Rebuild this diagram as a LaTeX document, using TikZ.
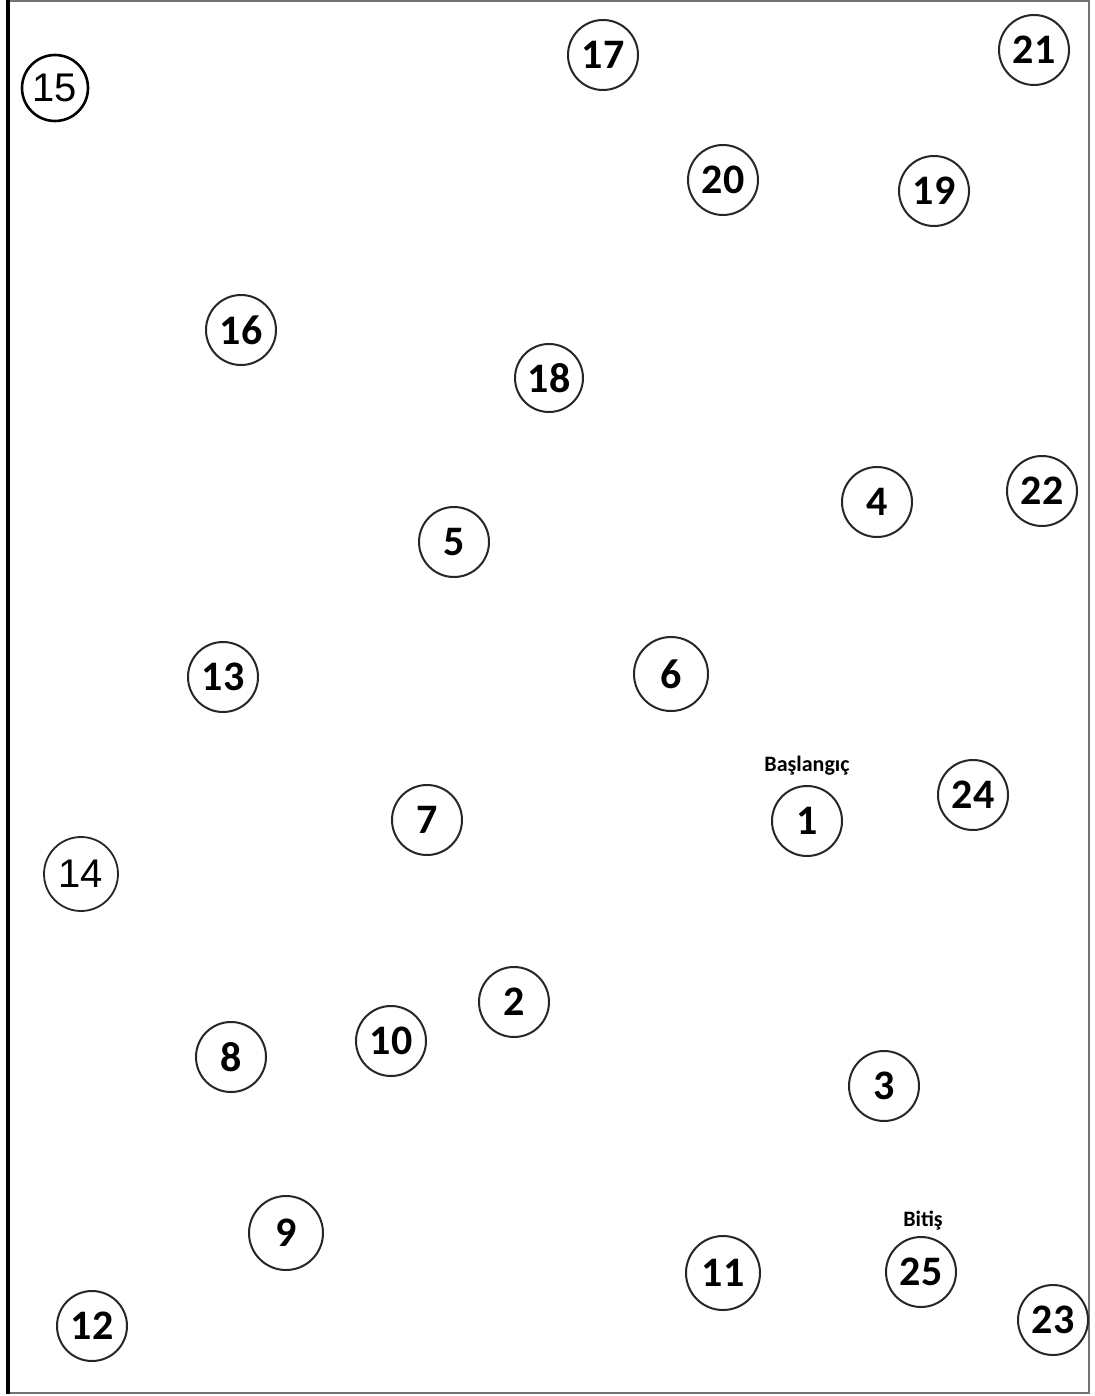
\documentclass[tikz,border=0pt]{standalone}
\usepackage{fontspec}
\setmainfont{Carlito}
\newfontfamily\handfont{Liberation Sans}
\begin{document}
\begin{tikzpicture}[x=1pt,y=-1pt,
  dot/.style={circle,draw=black!85,line width=2pt,minimum size=70pt,inner sep=0pt,font=\bfseries\fontsize{42}{42}\selectfont},
  hand/.style={circle,draw=black,line width=2.6pt,minimum size=66pt,inner sep=0pt,font=\handfont\fontsize{40}{40}\selectfont},
  tag/.style={font=\bfseries\fontsize{22}{22}\selectfont,inner sep=0pt}]
\useasboundingbox (0,0) rectangle (1094,1396);
\fill[white] (0,0) rectangle (1094,1396);
\draw[black!55,line width=2pt] (8,1) -- (1089,1) -- (1089,1393) -- (8,1393);
\draw[black,line width=3.5pt] (8,0) -- (8,1394);
\node[hand] (n15) at (55,88) {15};
\node[dot] (n17) at (603,55) {17};
\node[dot] (n21) at (1034,50) {21};
\node[dot] (n20) at (723,180) {20};
\node[dot] (n19) at (934,191) {19};
\node[dot] (n16) at (241,330) {16};
\node[dot,minimum size=68pt] (n18) at (549,378) {18};
\node[dot] (n4) at (877,502) {4};
\node[dot] (n22) at (1042,491) {22};
\node[dot] (n5) at (454,542) {5};
\node[dot] (n13) at (223,677) {13};
\node[dot,minimum size=74pt] (n6) at (671,674) {6};
\node[dot] (n24) at (973,795) {24};
\node[dot] (n1) at (807,821) {1};
\node[dot] (n7) at (427,820) {7};
\node[hand,draw=black!85,line width=1.8pt,minimum size=74pt] (n14) at (81,874) {14};
\node[dot] (n2) at (514,1002) {2};
\node[dot] (n10) at (391,1041) {10};
\node[dot] (n8) at (231,1057) {8};
\node[dot] (n3) at (884,1086) {3};
\node[dot,minimum size=74pt] (n9) at (286,1233) {9};
\node[dot,minimum size=74pt] (n11) at (723,1273) {11};
\node[dot] (n25) at (921,1272) {25};
\node[dot] (n12) at (92,1326) {12};
\node[dot] (n23) at (1053,1320) {23};
\node[tag] (start) at (807,766) {Başlangıç};
\node[tag] (finish) at (923,1221) {Bitiş};
\end{tikzpicture}
\end{document}
